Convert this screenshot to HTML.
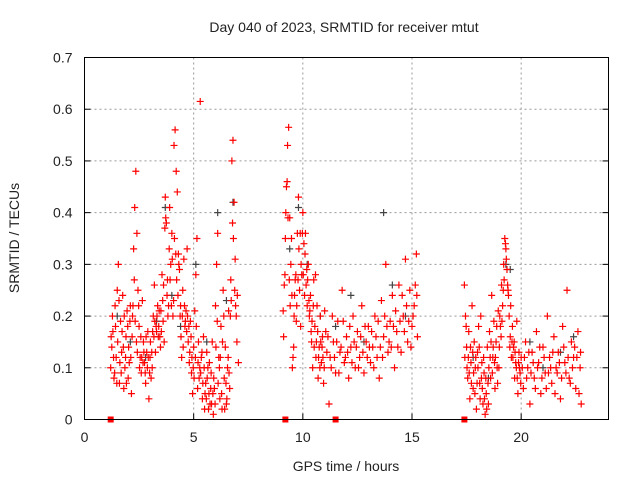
<!DOCTYPE html>
<html><head><meta charset="utf-8"><style>
body{margin:0;background:#fff}
text{font-family:"Liberation Sans",sans-serif;font-size:14px;fill:#222}
</style></head><body>
<svg id="chart" width="640" height="480">
<text x="344" y="32" text-anchor="middle">Day 040 of 2023, SRMTID for receiver mtut</text>
<text x="346" y="471" text-anchor="middle">GPS time / hours</text>
<text transform="translate(19,238) rotate(-90)" text-anchor="middle">SRMTID / TECUs</text>
<g id="grid"></g><g id="ticks"></g><g id="marks"></g>
<rect x="84.5" y="57.5" width="524" height="362" fill="none" stroke="#000"/>
</svg>
<script>
const xTicks=[0,5,10,15,20];
const yTicks=[0,0.1,0.2,0.3,0.4,0.5,0.6,0.7];
const yTickLabels=["0","0.1","0.2","0.3","0.4","0.5","0.6","0.7"];
const gapMarkers=[1.2,9.2,11.5,17.4];
const grayPts=[[1.5,0.2],[2.1,0.15],[2.8,0.12],[3.3,0.19],[3.7,0.41],[4.0,0.24],[4.4,0.18],[5.1,0.3],[5.6,0.15],[6.1,0.4],[6.5,0.23],[6.8,0.42],[9.4,0.33],[9.8,0.41],[10.2,0.3],[10.8,0.2],[11.5,0.18],[12.2,0.24],[12.8,0.15],[13.7,0.4],[14.1,0.26],[14.7,0.2],[17.8,0.12],[18.5,0.08],[19.3,0.3],[19.5,0.29],[20.4,0.15],[21.0,0.1],[21.8,0.13],[22.4,0.16]];
const redPts=[
[1.2,0.1],[1.25,0.14],[1.3,0.17],[1.35,0.08],[1.4,0.22],[1.45,0.12],[1.5,0.25],[1.55,0.3],[1.6,0.07],[1.65,0.19],[1.7,0.13],[1.75,0.24],[1.8,0.06],[1.85,0.1],[1.9,0.16],[1.95,0.21],[2.0,0.08],[2.05,0.11],[2.1,0.22],[2.15,0.05],[2.2,0.2],[2.25,0.33],[2.3,0.41],[2.35,0.48],[2.4,0.36],[2.45,0.25],[2.5,0.18],[2.55,0.12],[2.6,0.09],[2.65,0.23],[2.7,0.15],[2.75,0.11],[2.8,0.07],[2.85,0.13],[2.9,0.17],[2.95,0.04],[3.0,0.12],[3.05,0.08],[3.1,0.1],[3.15,0.2],[3.2,0.26],[3.25,0.13],[3.3,0.17],[3.35,0.22],[3.4,0.18],[3.45,0.16],[3.5,0.21],[3.55,0.28],[3.6,0.19],[3.65,0.15],[3.7,0.43],[3.75,0.38],[3.8,0.27],[3.85,0.22],[3.9,0.41],[3.95,0.3],[4.0,0.36],[4.05,0.2],[4.1,0.53],[4.15,0.56],[4.2,0.48],[4.25,0.44],[4.3,0.32],[4.35,0.29],[4.4,0.22],[4.45,0.12],[4.5,0.25],[4.55,0.31],[4.6,0.18],[4.65,0.21],[4.7,0.33],[4.75,0.15],[4.8,0.11],[4.85,0.19],[4.9,0.09],[4.95,0.05],[5.0,0.14],[5.05,0.21],[5.1,0.28],[5.15,0.35],[5.2,0.11],[5.25,0.08],[5.3,0.615],[5.35,0.12],[5.4,0.04],[5.45,0.16],[5.5,0.02],[5.55,0.07],[5.6,0.13],[5.65,0.1],[5.7,0.05],[5.75,0.03],[5.8,0.09],[5.85,0.15],[5.9,0.01],[5.95,0.06],[6.0,0.22],[6.05,0.3],[6.1,0.36],[6.15,0.12],[6.2,0.04],[6.25,0.18],[6.3,0.02],[6.35,0.25],[6.4,0.08],[6.45,0.14],[6.5,0.03],[6.55,0.1],[6.6,0.21],[6.65,0.06],[6.7,0.27],[6.75,0.5],[6.8,0.54],[6.85,0.42],[6.9,0.31],[6.95,0.2],[7.0,0.24],[7.05,0.11],
[9.1,0.21],[9.15,0.26],[9.2,0.35],[9.25,0.45],[9.3,0.53],[9.35,0.565],[9.4,0.39],[9.45,0.3],[9.5,0.24],[9.55,0.12],[9.6,0.2],[9.65,0.27],[9.7,0.19],[9.75,0.36],[9.8,0.43],[9.85,0.25],[9.9,0.18],[9.95,0.28],[10.0,0.4],[10.05,0.34],[10.1,0.32],[10.15,0.26],[10.2,0.22],[10.25,0.3],[10.3,0.2],[10.35,0.24],[10.4,0.15],[10.45,0.1],[10.5,0.27],[10.55,0.18],[10.6,0.12],[10.65,0.22],[10.7,0.08],[10.75,0.14],[10.8,0.2],[10.85,0.11],[10.9,0.16],[10.95,0.07],[11.0,0.21],[11.1,0.13],[11.2,0.03],[11.3,0.1],[11.4,0.15],[11.5,0.09],[11.6,0.19],[11.7,0.13],[11.8,0.25],[11.9,0.11],[12.0,0.16],[12.1,0.08],[12.2,0.14],[12.3,0.2],[12.4,0.1],[12.5,0.17],[12.6,0.12],[12.7,0.22],[12.8,0.09],[12.9,0.15],[13.0,0.18],[13.1,0.11],[13.2,0.14],[13.3,0.2],[13.4,0.12],[13.5,0.08],[13.6,0.23],[13.7,0.16],[13.8,0.3],[13.9,0.13],[14.0,0.19],[14.1,0.24],[14.2,0.1],[14.3,0.17],[14.4,0.26],[14.5,0.13],[14.6,0.2],[14.7,0.31],[14.8,0.15],[14.9,0.25],[15.0,0.18],[15.1,0.22],[15.2,0.32],[15.25,0.16],
[17.4,0.26],[17.45,0.2],[17.5,0.14],[17.55,0.08],[17.6,0.17],[17.65,0.04],[17.7,0.11],[17.75,0.22],[17.8,0.06],[17.85,0.15],[17.9,0.1],[17.95,0.02],[18.0,0.13],[18.05,0.18],[18.1,0.07],[18.15,0.2],[18.2,0.11],[18.25,0.03],[18.3,0.09],[18.35,0.01],[18.4,0.05],[18.45,0.14],[18.5,0.03],[18.55,0.17],[18.6,0.08],[18.65,0.24],[18.7,0.12],[18.75,0.19],[18.8,0.06],[18.85,0.15],[18.9,0.1],[18.95,0.21],[19.0,0.14],[19.05,0.18],[19.1,0.26],[19.15,0.22],[19.2,0.3],[19.25,0.35],[19.3,0.33],[19.35,0.29],[19.4,0.25],[19.45,0.2],[19.5,0.16],[19.55,0.12],[19.6,0.18],[19.65,0.14],[19.7,0.08],[19.75,0.11],[19.8,0.19],[19.85,0.05],[19.9,0.13],[19.95,0.09],[20.0,0.12],[20.1,0.06],[20.2,0.15],[20.3,0.1],[20.4,0.03],[20.5,0.13],[20.6,0.08],[20.7,0.17],[20.8,0.11],[20.9,0.05],[21.0,0.14],[21.1,0.09],[21.2,0.2],[21.3,0.12],[21.4,0.07],[21.5,0.16],[21.6,0.1],[21.7,0.13],[21.8,0.04],[21.9,0.18],[22.0,0.11],[22.1,0.25],[22.2,0.08],[22.3,0.15],[22.4,0.12],[22.5,0.06],[22.6,0.17],[22.7,0.1],[22.75,0.03]];
const redPts2=[
[1.22,0.16],[1.28,0.2],[1.33,0.12],[1.38,0.09],[1.42,0.18],[1.48,0.07],[1.52,0.15],[1.58,0.23],[1.62,0.11],[1.68,0.09],[1.72,0.17],[1.78,0.14],[1.82,0.2],[1.88,0.12],[1.92,0.07],[1.98,0.18],[2.02,0.14],[2.08,0.19],[2.12,0.12],[2.18,0.16],[2.22,0.22],[2.28,0.27],[2.32,0.19],[2.38,0.15],[2.42,0.13],[2.48,0.22],[2.52,0.1],[2.58,0.16],[2.62,0.12],[2.68,0.11],[2.72,0.13],[2.78,0.09],[2.82,0.16],[2.88,0.1],[2.92,0.12],[2.98,0.09],[3.02,0.15],[3.08,0.13],[3.12,0.17],[3.18,0.16],[3.22,0.19],[3.28,0.18],[3.32,0.2],[3.38,0.16],[3.42,0.21],[3.48,0.14],[3.52,0.17],[3.58,0.23],[3.62,0.26],[3.68,0.37],[3.72,0.39],[3.78,0.24],[3.82,0.2],[3.88,0.33],[3.92,0.27],[3.98,0.22],[4.02,0.31],[4.08,0.23],[4.12,0.35],[4.18,0.32],[4.22,0.27],[4.28,0.24],[4.32,0.3],[4.38,0.2],[4.42,0.16],[4.48,0.2],[4.52,0.14],[4.58,0.22],[4.62,0.19],[4.68,0.17],[4.72,0.2],[4.78,0.18],[4.82,0.13],[4.88,0.16],[4.92,0.12],[4.98,0.1],[5.02,0.08],[5.08,0.12],[5.12,0.18],[5.18,0.06],[5.22,0.15],[5.28,0.1],[5.32,0.09],[5.38,0.13],[5.42,0.07],[5.48,0.1],[5.52,0.05],[5.58,0.04],[5.62,0.08],[5.68,0.02],[5.72,0.11],[5.78,0.06],[5.82,0.03],[5.88,0.05],[5.92,0.08],[5.98,0.03],[6.02,0.14],[6.08,0.19],[6.12,0.07],[6.18,0.1],[6.22,0.12],[6.28,0.05],[6.32,0.15],[6.38,0.2],[6.42,0.02],[6.48,0.07],[6.52,0.04],[6.58,0.12],[6.62,0.09],[6.68,0.2],[6.72,0.23],[6.78,0.38],[6.82,0.35],[6.88,0.25],[6.92,0.22],[6.98,0.15],
[9.12,0.16],[9.18,0.28],[9.22,0.4],[9.28,0.46],[9.32,0.39],[9.38,0.27],[9.42,0.22],[9.48,0.35],[9.52,0.1],[9.58,0.14],[9.62,0.24],[9.68,0.28],[9.72,0.22],[9.78,0.27],[9.82,0.33],[9.88,0.36],[9.92,0.3],[9.98,0.36],[10.02,0.28],[10.08,0.24],[10.12,0.36],[10.18,0.29],[10.22,0.27],[10.28,0.23],[10.32,0.21],[10.38,0.17],[10.42,0.19],[10.48,0.22],[10.52,0.14],[10.58,0.28],[10.62,0.15],[10.68,0.17],[10.72,0.12],[10.78,0.1],[10.82,0.15],[10.88,0.14],[10.92,0.12],[10.98,0.1],[11.05,0.17],[11.15,0.16],[11.25,0.12],[11.35,0.2],[11.45,0.12],[11.55,0.15],[11.65,0.09],[11.75,0.14],[11.85,0.19],[11.95,0.12],[12.05,0.13],[12.15,0.18],[12.25,0.11],[12.35,0.15],[12.45,0.14],[12.55,0.1],[12.65,0.16],[12.75,0.13],[12.85,0.18],[12.95,0.12],[13.05,0.14],[13.15,0.17],[13.25,0.1],[13.35,0.16],[13.45,0.19],[13.55,0.14],[13.65,0.12],[13.75,0.2],[13.85,0.18],[13.95,0.15],[14.05,0.14],[14.15,0.18],[14.25,0.21],[14.35,0.14],[14.45,0.19],[14.55,0.24],[14.65,0.17],[14.75,0.22],[14.85,0.19],[14.95,0.14],[15.05,0.2],[15.15,0.26],[15.22,0.24],
[17.42,0.12],[17.48,0.18],[17.52,0.1],[17.58,0.12],[17.62,0.09],[17.68,0.14],[17.72,0.07],[17.78,0.13],[17.82,0.09],[17.88,0.05],[17.92,0.12],[17.98,0.07],[18.02,0.1],[18.08,0.14],[18.12,0.04],[18.18,0.08],[18.22,0.06],[18.28,0.12],[18.32,0.04],[18.38,0.08],[18.42,0.02],[18.48,0.07],[18.52,0.1],[18.58,0.12],[18.62,0.15],[18.68,0.09],[18.72,0.14],[18.78,0.11],[18.82,0.12],[18.88,0.18],[18.92,0.07],[18.98,0.1],[19.02,0.2],[19.08,0.16],[19.12,0.19],[19.18,0.25],[19.22,0.27],[19.28,0.34],[19.32,0.31],[19.38,0.26],[19.42,0.24],[19.48,0.14],[19.52,0.22],[19.58,0.15],[19.62,0.12],[19.68,0.15],[19.72,0.13],[19.78,0.1],[19.82,0.08],[19.88,0.11],[19.92,0.1],[19.98,0.07],[20.05,0.1],[20.15,0.12],[20.25,0.08],[20.35,0.13],[20.45,0.09],[20.55,0.11],[20.65,0.06],[20.75,0.1],[20.85,0.14],[20.95,0.08],[21.05,0.12],[21.15,0.06],[21.25,0.09],[21.35,0.1],[21.45,0.13],[21.55,0.05],[21.65,0.09],[21.75,0.11],[21.85,0.08],[21.95,0.14],[22.05,0.09],[22.15,0.12],[22.25,0.07],[22.35,0.1],[22.45,0.14],[22.55,0.12],[22.65,0.05],[22.72,0.13]];
const X0=84.5,X1=608.5,Y0=419.5,Y1=57.5,XMAX=24,YMAX=0.7;
function sx(v){return X0+v/XMAX*(X1-X0);}
function sy(v){return Y0-v/YMAX*(Y0-Y1);}
const NS="http://www.w3.org/2000/svg";
function mk(tag,attrs,parent){const e=document.createElementNS(NS,tag);for(const k in attrs)e.setAttribute(k,attrs[k]);parent.appendChild(e);return e;}
const grid=document.getElementById('grid'),ticks=document.getElementById('ticks'),marks=document.getElementById('marks');
xTicks.forEach((t,i)=>{const x=sx(t);
 if(t>0){const g=mk('line',{x1:x,x2:x,y1:Y0,y2:Y1,stroke:'#999','stroke-dasharray':'2,3'},grid);
 
 }
 mk('line',{x1:x,x2:x,y1:Y0,y2:Y0-6,stroke:'#000'},ticks);
 const l=mk('text',{x:x,y:442,'text-anchor':'middle'},ticks);l.textContent=String(t);
 
 });
yTicks.forEach((t,i)=>{const y=sy(t);
 if(t>0&&t<YMAX){const g=mk('line',{x1:X0,x2:X1,y1:y,y2:y,stroke:'#999','stroke-dasharray':'2,3'},grid);
 
 }
 mk('line',{x1:X0,x2:X0+6,y1:y,y2:y,stroke:'#000'},ticks);
 mk('line',{x1:X1,x2:X1-6,y1:y,y2:y,stroke:'#000'},ticks);
 const l=mk('text',{x:X0-12,y:y+5,'text-anchor':'end'},ticks);l.textContent=yTickLabels[i];
 
 });
function plus(p,color,name){const x=sx(p[0]),y=sy(p[1]);
 const e=mk('path',{d:`M${x-3.5},${y}H${x+3.5}M${x},${y-3.5}V${y+3.5}`,stroke:color,'stroke-width':1.2,fill:'none'},marks);
 
 }
grayPts.forEach(p=>plus(p,'#444','gray-point'));
redPts.forEach(p=>plus(p,'#f00','red-point'));
redPts2.forEach(p=>plus(p,'#f00','red-point'));
gapMarkers.forEach(h=>{const r=mk('rect',{x:sx(h)-3,y:Y0-3,width:6,height:6,fill:'#f00'},marks);
 
 });
</script>
</body></html>
